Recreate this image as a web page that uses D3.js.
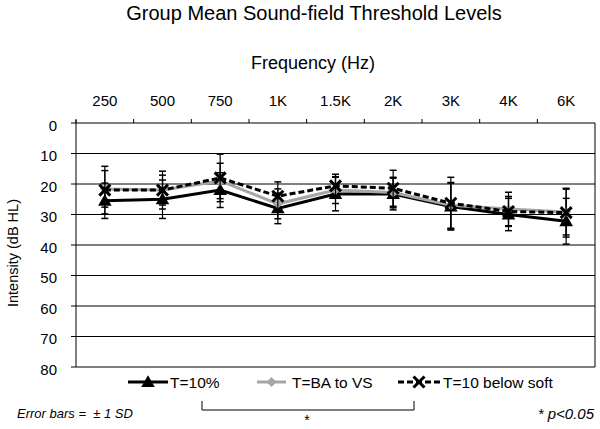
<!DOCTYPE html>
<html>
<head>
<meta charset="utf-8">
<script src="https://cdn.jsdelivr.net/npm/d3@7"></script>
<style>
  body { margin: 0; background: #fff; }
  svg { display: block; font-family: "Liberation Sans", Arial, sans-serif; }
</style>
</head>
<body>
<svg width="600" height="429"></svg>
<script>
let width = 600,
    height = 429;

// chart data (dB HL, mean and 1 SD)
const freqs = ["250", "500", "750", "1K", "1.5K", "2K", "3K", "4K", "6K"];
const t10 = [25.5, 25, 22, 28, 23.3, 23.3, 27.4, 30, 32.2];
const t10Sd = [5.8, 6.3, 5.7, 5, 5.5, 5.2, 7.7, 5.3, 7.5];
const tBa = [21.6, 22, 19, 26.5, 22, 22.8, 27, 28.2, 29.2];
const tBaSd = [6, 4.9, 5.8, 4.9, 4.4, 5, 7.5, 5.5, 7.5];
const tSoft = [22, 22, 18, 24, 20.6, 21.4, 26.3, 29, 29.4];
const tSoftSd = [7.8, 6.2, 7.8, 4.7, 3.8, 5.9, 8.5, 4.9, 8];
const yTicks = [0, 10, 20, 30, 40, 50, 60, 70, 80];

const series = [
    { name: "T=10%", mean: t10, sd: t10Sd, color: "#000", dash: null, marker: "triangle" },
    { name: "T=BA to VS", mean: tBa, sd: tBaSd, color: "#a6a6a6", dash: null, marker: "diamond" },
    { name: "T=10 below soft", mean: tSoft, sd: tSoftSd, color: "#000", dash: "6,3", marker: "x" },
];

let svg = d3.select("svg");

const plot = { left: 76, right: 595, top: 123, bottom: 367 };

let x = d3.scaleBand().domain(freqs).range([plot.left, plot.right]);
let y = d3.scaleLinear().domain([0, 80]).range([plot.top, plot.bottom]);

// gridlines
svg.append("g")
    .selectAll("line")
    .data(yTicks.slice(1))
    .enter()
    .append("line")
    .attr("x1", plot.left)
    .attr("x2", plot.right)
    .attr("y1", (d) => y(d))
    .attr("y2", (d) => y(d))
    .attr("stroke", "#000")
    .attr("stroke-width", 1);

// right border
svg.append("line")
    .attr("x1", plot.right).attr("x2", plot.right)
    .attr("y1", plot.top).attr("y2", plot.bottom)
    .attr("stroke", "#000");

// top (x) axis with ticks at band edges
let xAxis = svg.append("g");
xAxis.append("line")
    .attr("x1", plot.left).attr("x2", plot.right)
    .attr("y1", plot.top).attr("y2", plot.top)
    .attr("stroke", "#000");
xAxis.selectAll(".tk")
    .data(freqs)
    .enter()
    .append("line")
    .attr("x1", (d) => x(d))
    .attr("x2", (d) => x(d))
    .attr("y1", plot.top - 4)
    .attr("y2", plot.top)
    .attr("stroke", "#000");
xAxis.selectAll("text")
    .data(freqs)
    .enter()
    .append("text")
    .attr("x", (d) => x(d) + x.bandwidth() / 2)
    .attr("y", 106)
    .attr("text-anchor", "middle")
    .attr("font-size", "15px")
    .text((d) => d);

// left (y) axis
let yAxis = svg.append("g");
yAxis.append("line")
    .attr("x1", plot.left).attr("x2", plot.left)
    .attr("y1", plot.top - 3).attr("y2", plot.bottom)
    .attr("stroke", "#000");
yAxis.selectAll(".tk")
    .data(yTicks)
    .enter()
    .append("line")
    .attr("x1", plot.left - 5)
    .attr("x2", plot.left)
    .attr("y1", (d) => y(d))
    .attr("y2", (d) => y(d))
    .attr("stroke", "#000");
yAxis.selectAll("text")
    .data(yTicks)
    .enter()
    .append("text")
    .attr("x", 57)
    .attr("y", (d) => y(d) + 7.5)
    .attr("text-anchor", "end")
    .attr("font-size", "15px")
    .text((d) => d);

// titles
svg.append("text")
    .attr("x", 314).attr("y", 20)
    .attr("text-anchor", "middle")
    .attr("font-size", "20px")
    .text("Group Mean Sound-field Threshold Levels");

svg.append("text")
    .attr("x", 313).attr("y", 69)
    .attr("text-anchor", "middle")
    .attr("font-size", "18px")
    .text("Frequency (Hz)");

svg.append("text")
    .attr("transform", "translate(18,253) rotate(-90)")
    .attr("text-anchor", "middle")
    .attr("font-size", "14.5px")
    .text("Intensity (dB HL)");

// marker drawing helper
function drawMarker(g, type, cx, cy, color) {
    if (type === "triangle") {
        g.append("path")
            .attr("d", d3.symbol().type(d3.symbolTriangle).size(80)())
            .attr("transform", `translate(${cx},${cy + 1})`)
            .attr("fill", color);
    } else if (type === "diamond") {
        g.append("path")
            .attr("d", "M0,-5L5,0L0,5L-5,0Z")
            .attr("transform", `translate(${cx},${cy})`)
            .attr("fill", color);
    } else {
        g.append("path")
            .attr("d", "M-5.5,-5.5L5.5,5.5M-5.5,5.5L5.5,-5.5")
            .attr("transform", `translate(${cx},${cy})`)
            .attr("stroke", "#000")
            .attr("stroke-width", 3)
            .attr("fill", "none");
    }
}

let cx = (d) => x(d) + x.bandwidth() / 2;

// error bars, lines, markers
series.forEach((s) => {
    let g = svg.append("g");
    let pts = freqs.map((f, i) => ({ f: f, m: s.mean[i], sd: s.sd[i] }));

    pts.forEach((p) => {
        g.append("line")
            .attr("x1", cx(p.f)).attr("x2", cx(p.f))
            .attr("y1", y(p.m - p.sd)).attr("y2", y(p.m + p.sd))
            .attr("stroke", "#000").attr("stroke-width", 1.2);
        [p.m - p.sd, p.m + p.sd].forEach((v) => {
            g.append("line")
                .attr("x1", cx(p.f) - 3.5).attr("x2", cx(p.f) + 3.5)
                .attr("y1", y(v)).attr("y2", y(v))
                .attr("stroke", "#000").attr("stroke-width", 1.5);
        });
    });

    g.append("path")
        .datum(pts)
        .attr("d", d3.line().x((d) => cx(d.f)).y((d) => y(d.m)))
        .attr("fill", "none")
        .attr("stroke", s.color)
        .attr("stroke-width", 3)
        .attr("stroke-dasharray", s.dash);

    pts.forEach((p) => drawMarker(g, s.marker, cx(p.f), y(p.m), s.color));
});

// legend
const legendPos = [
    { x1: 128, x2: 168, tx: 170 },
    { x1: 257, x2: 286, tx: 292 },
    { x1: 398, x2: 440, tx: 443 },
];
const legendY = 382;
series.forEach((s, i) => {
    let lp = legendPos[i];
    let g = svg.append("g");
    g.append("line")
        .attr("x1", lp.x1).attr("x2", lp.x2)
        .attr("y1", legendY).attr("y2", legendY)
        .attr("stroke", s.color)
        .attr("stroke-width", 3)
        .attr("stroke-dasharray", s.dash);
    drawMarker(g, s.marker, (lp.x1 + lp.x2) / 2, legendY, s.color);
    g.append("text")
        .attr("x", lp.tx).attr("y", legendY + 5.5)
        .attr("font-size", "15.5px")
        .text(s.name);
});

// significance bracket
svg.append("path")
    .attr("d", "M202,401V410H414V401")
    .attr("fill", "none")
    .attr("stroke", "#000")
    .attr("stroke-width", 1);
svg.append("text")
    .attr("x", 307).attr("y", 425)
    .attr("text-anchor", "middle")
    .attr("font-size", "14px")
    .text("*");

svg.append("text")
    .attr("x", 17).attr("y", 418)
    .attr("font-size", "13px")
    .attr("font-style", "italic")
    .attr("xml:space", "preserve")
    .text("Error bars =  \u00b1 1 SD");

svg.append("text")
    .attr("x", 594).attr("y", 419)
    .attr("text-anchor", "end")
    .attr("font-size", "15px")
    .attr("font-style", "italic")
    .text("* p<0.05");
</script>
</body>
</html>
